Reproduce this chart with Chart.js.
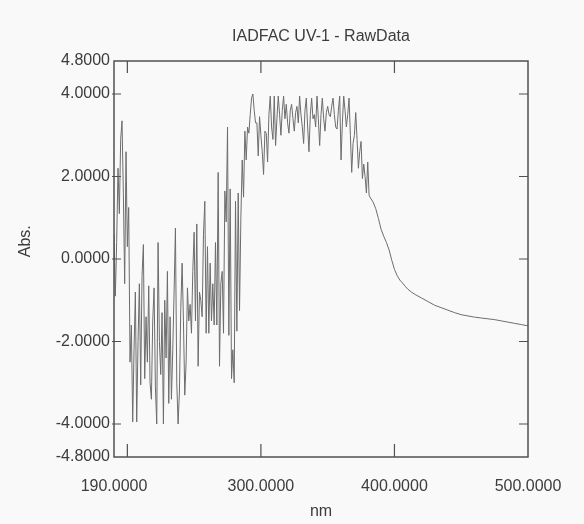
<!DOCTYPE html>
<html>
<head>
<meta charset="utf-8">
<title>IADFAC UV-1 - RawData</title>
<script src="https://cdn.jsdelivr.net/npm/chart.js@4.4.1/dist/chart.umd.min.js"></script>
<style>
  html, body { margin: 0; padding: 0; background: #faf9fa; }
  #wrap { width: 584px; height: 524px; }
</style>
</head>
<body>
<div id="wrap"><canvas id="spectrum"></canvas></div>
<script>
// wavelength (nm) and absorbance
const wavelengthNm = [
  190, 191, 192, 193, 194, 195, 196, 197, 198, 199,
  200, 201, 202, 203, 204, 205, 206, 207, 208, 209,
  210, 211, 212, 213, 214, 215, 216, 217, 218, 219,
  220, 221, 222, 223, 224, 225, 226, 227, 228, 229,
  230, 231, 232, 233, 234, 235, 236, 237, 238, 239,
  240, 241, 242, 243, 244, 245, 246, 247, 248, 249,
  250, 251, 252, 253, 254, 255, 256, 257, 258, 259,
  260, 261, 262, 263, 264, 265, 266, 267, 268, 269,
  270, 271, 272, 273, 274, 275, 276, 277, 278, 279,
  280, 281, 282, 283, 284, 285, 286, 287, 288, 289,
  290, 291, 292, 293, 294, 295, 296, 297, 298, 299,
  300, 301, 302, 303, 304, 305, 306, 307, 308, 309,
  310, 311, 312, 313, 314, 315, 316, 317, 318, 319,
  320, 321, 322, 323, 324, 325, 326, 327, 328, 329,
  330, 331, 332, 333, 334, 335, 336, 337, 338, 339,
  340, 341, 342, 343, 344, 345, 346, 347, 348, 349,
  350, 351, 352, 353, 354, 355, 356, 357, 358, 359,
  360, 361, 362, 363, 364, 365, 366, 367, 368, 369,
  370, 371, 372, 373, 374, 375, 376, 377, 378, 379,
  380, 381, 382, 384, 386, 388, 390, 392, 394, 396,
  398, 400, 402, 404, 406, 408, 410, 413, 416, 420,
  425, 430, 435, 440, 445, 450, 455, 460, 465, 470,
  475, 480, 485, 490, 495, 500
];

const absorbance = [
  0.6, -0.9, 0.4, 2.2, 1.1, 2.9, 3.35, 1.6, -0.6, 2.6,
  0.3, 1.25, -2.5, -1.6, -3.95, -2.2, -0.8, -3.95, -2.0, -0.6,
  -3.05, -0.4, 0.35, -2.9, -1.4, -2.5, -0.65, -3.0, -3.4, -1.5,
  -0.7, -3.1, -4.0, 0.4, -2.0, -2.8, -1.3, -4.0, -1.0, -2.4,
  -0.3, -3.5, -1.4, -3.4, -2.2, -0.8, 0.75, -3.0, -4.0, -3.2,
  -1.2, -0.1, -1.5, -3.3, -2.5, -0.7, -1.5, -1.1, -1.8, -0.3,
  0.65, -1.5, 0.85, -2.6, -0.8, -1.0, -1.4, 0.6, 1.4, -1.8,
  0.3, -1.8, -0.1, -1.5, -0.6, -1.6, 0.4, -1.6, 2.1, -2.6,
  -0.6, -0.3, -1.8, 1.65, 0.9, 3.2, -1.85, 1.7, -2.9, -2.2,
  -3.0, 1.4, -1.75, 1.6, -1.25, 1.0, 2.4, 1.5, 3.1, 2.4,
  3.2, 3.05, 3.5, 3.9, 4.0, 3.6, 3.3, 3.3, 2.5, 3.45,
  3.0, 2.6, 2.05, 3.1, 3.05, 2.35, 3.5, 3.95, 3.2, 2.9,
  3.95, 2.75, 3.4, 3.95, 3.5, 3.0, 3.6, 3.95, 3.4, 3.75,
  3.3, 3.05, 3.6, 3.75, 3.4, 3.1, 3.55, 3.7, 3.3, 3.95,
  3.5, 3.2, 2.8, 3.6, 3.9, 3.2, 2.6, 3.5, 3.9, 3.4,
  3.5, 3.2, 3.95, 3.4, 2.75, 3.5, 3.9, 3.4, 3.1, 3.55,
  3.7, 3.5, 3.45, 3.7, 3.9, 3.5, 3.2, 3.15, 3.6, 3.95,
  2.4, 3.3, 3.95, 3.6, 3.2, 3.5, 3.9, 3.0, 2.1, 2.8,
  3.0, 3.55, 2.9, 2.2, 2.6, 2.85, 1.95, 2.3, 2.0, 1.6,
  2.35, 1.55, 1.48, 1.38, 1.22, 0.98, 0.72, 0.55, 0.40, 0.22,
  -0.03, -0.25, -0.40, -0.51, -0.58, -0.66, -0.73, -0.81, -0.87, -0.94,
  -1.03, -1.12, -1.18, -1.24, -1.30, -1.35, -1.38, -1.41, -1.43, -1.45,
  -1.47, -1.50, -1.53, -1.56, -1.59, -1.62
];

const xLabelValues = [190, 300, 400, 500];
const xMarkValues = [200, 300, 400];
const yLabelValues = [-4.8, -4, -2, 0, 2, 4, 4.8];
const yMarkValues = [-4, -2, 0, 2, 4];

const FONT = "'Liberation Sans', Arial, sans-serif";
const INK = '#3c3c3c';

// box round the plot plus the short inward tick marks
const frameTicks = {
  id: 'frameTicks',
  afterDatasetsDraw(chart) {
    const { ctx, chartArea: a, scales: { x, y } } = chart;
    ctx.save();
    ctx.strokeStyle = '#505050';
    ctx.lineWidth = 1.5;
    ctx.strokeRect(a.left, a.top, a.right - a.left, a.bottom - a.top);
    ctx.lineWidth = 1.2;
    ctx.beginPath();
    xMarkValues.forEach(v => {
      const px = x.getPixelForValue(v);
      ctx.moveTo(px, a.bottom); ctx.lineTo(px, a.bottom - 13);
      ctx.moveTo(px, a.top); ctx.lineTo(px, a.top + 12);
    });
    yMarkValues.forEach(v => {
      const py = y.getPixelForValue(v);
      ctx.moveTo(a.left - 2, py); ctx.lineTo(a.left + 7, py);
      ctx.moveTo(a.right, py); ctx.lineTo(a.right - 9, py);
    });
    ctx.stroke();
    ctx.restore();
  }
};

new Chart(document.getElementById('spectrum'), {
  type: 'line',
  data: {
    datasets: [{
      data: wavelengthNm.map((nm, i) => ({ x: nm, y: absorbance[i] })),
      borderColor: '#6c6c6c',
      borderWidth: 1,
      pointRadius: 0,
      tension: 0,
      fill: false
    }]
  },
  options: {
    responsive: true,
    maintainAspectRatio: false,
    animation: false,
    layout: { padding: { left: 0, right: 56, top: 0, bottom: 0 } },
    plugins: {
      legend: { display: false },
      tooltip: { enabled: false },
      title: {
        display: true,
        text: 'IADFAC UV-1 - RawData',
        fullSize: false,
        color: INK,
        font: { family: FONT, size: 16, weight: 'normal', lineHeight: 1.2 },
        padding: { top: 27, bottom: 14.8 }
      }
    },
    scales: {
      x: {
        type: 'linear',
        min: 190,
        max: 500,
        afterBuildTicks: s => { s.ticks = xLabelValues.map(v => ({ value: v })); },
        afterFit: s => { s.height = 67; },
        grid: { display: false, drawTicks: false },
        border: { display: false },
        ticks: {
          autoSkip: false,
          maxRotation: 0,
          padding: 20,
          color: INK,
          font: { family: FONT, size: 16 },
          callback: v => Number(v).toFixed(4)
        },
        title: {
          display: true,
          text: 'nm',
          color: INK,
          font: { family: FONT, size: 16, lineHeight: 1.2 },
          padding: { top: 0, bottom: 3 }
        }
      },
      y: {
        min: -4.8,
        max: 4.8,
        afterBuildTicks: s => { s.ticks = yLabelValues.map(v => ({ value: v })); },
        afterFit: s => { s.width = 114; },
        grid: { display: false, drawTicks: false },
        border: { display: false },
        ticks: {
          autoSkip: false,
          padding: 4,
          color: INK,
          font: { family: FONT, size: 16 },
          callback: v => Number(v).toFixed(4)
        },
        title: {
          display: true,
          text: '        Abs.',
          color: INK,
          font: { family: FONT, size: 16, lineHeight: 1.2 },
          padding: { top: 16, bottom: 0 }
        }
      }
    }
  },
  plugins: [frameTicks]
});
</script>
</body>
</html>
